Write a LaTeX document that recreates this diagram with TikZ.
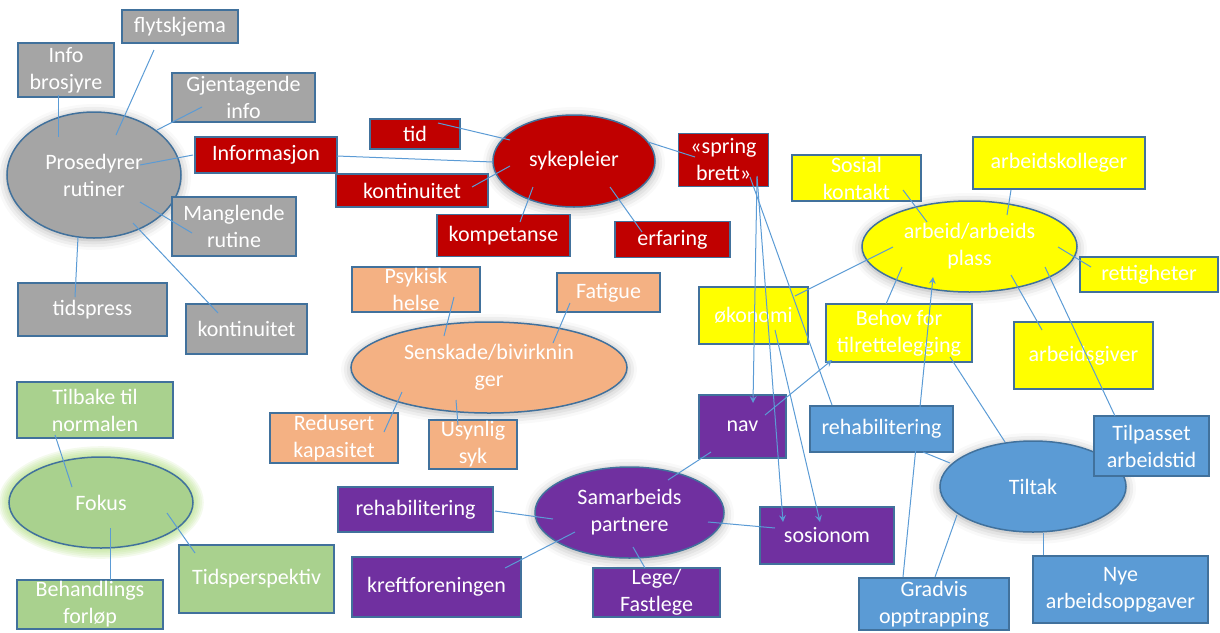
\documentclass[tikz,border=0pt]{standalone}
\usepackage{fontspec}
\setmainfont{Carlito}
\usetikzlibrary{shapes.geometric,shadows.blur}

\definecolor{graybox}{HTML}{A5A5A5}
\definecolor{redbox}{HTML}{C00000}
\definecolor{yellowbox}{HTML}{FFFF00}
\definecolor{orangebox}{HTML}{F4B183}
\definecolor{purplebox}{HTML}{7030A0}
\definecolor{bluebox}{HTML}{5B9BD5}
\definecolor{greenbox}{HTML}{A9D18E}
\definecolor{edgeblue}{HTML}{41719C}
\definecolor{linkblue}{HTML}{5B9BD5}
\definecolor{glowgreen}{HTML}{92D050}

\tikzset{%
		every box/.style={
			draw=edgeblue,
			line width=0.75pt,
			text=white,
			align=center,
			inner sep=0.5pt,
			font=\fontsize{11}{13.5}\selectfont
		},
		bubble/.style={
			every box,
			ellipse
		},
		bubble shadow/.style={
			blur shadow={shadow xshift=0pt, shadow yshift=-1pt, shadow blur radius=5pt, shadow opacity=35}
		},
		link/.style={
			draw=linkblue,
			line width=0.5pt
		},
	}

\begin{document}
\begin{tikzpicture}[x=0.5pt, y=-0.5pt, >=stealth]
			\useasboundingbox (0,0) rectangle (1220,632);
			
			% green glow round the focus bubble
			\foreach \g in {1,...,6}
			\fill [glowgreen, opacity=0.10] (101,502.5) ellipse ({46pt+0.9pt*\g} and {22.75pt+0.9pt*\g});
			
			% draw the bubbles
			\foreach \n/\x/\y/\w/\h/\c/\txt in {
				pros/94/175/174/126/graybox/{Prosedyrer\\rutiner},
				syke/574/161/162/92/redbox/sykepleier,
				arbeid/969.5/246.5/215/91/yellowbox/{arbeid/arbeids\\plass},
				sensk/489/367.5/276/91/orangebox/{Senskade/bivirknin\\ger},
				samar/629.5/512.5/189/91/purplebox/{Samarbeids\\partnere},
				tiltak/1033/486.5/186/91/bluebox/Tiltak}
			\node [bubble, bubble shadow, fill=\c, minimum width=\w*0.5pt, minimum height=\h*0.5pt] (\n) at (\x,\y) {\txt};
			\node [bubble, fill=greenbox, minimum width=92pt, minimum height=45.5pt] (fokus) at (101,502.5) {Fokus};
			
			% draw gray boxes
			\foreach \n/\x/\y/\w/\h/\txt in {
				flyt/180/26.5/116/33/flytskjema,
				info/66/70/96/54/{Info\\brosjyre},
				gjen/243.5/97.5/143/49/{Gjentagende\\info},
				mangl/234/226.5/124/59/{Manglende\\rutine},
				tidsp/92.5/309.5/149/53/tidspress,
				kontg/246.5/329/121/50/kontinuitet}
			\node [every box, fill=graybox, minimum width=\w*0.5pt, minimum height=\h*0.5pt] (\n) at (\x,\y) {\txt};
			
			% draw red boxes
			\foreach \n/\x/\y/\w/\h/\txt in {
				infor/266/155/142/36/Informasjon,
				tid/415/134/90/30/tid,
				kontr/412/190.5/152/33/kontinuitet,
				komp/503.5/235.5/133/42/kompetanse,
				erf/672.5/239.5/115/36/erfaring,
				spring/723.5/160/90/53/{«spring\\brett»}}
			\node [every box, fill=redbox, minimum width=\w*0.5pt, minimum height=\h*0.5pt] (\n) at (\x,\y) {\txt};
			
			% draw yellow boxes
			\foreach \n/\x/\y/\w/\h/\txt in {
				sosial/856.5/178/129/46/{Sosial\\kontakt},
				kolleg/1059/163/172/52/arbeidskolleger,
				retti/1149/274.5/138/35/rettigheter,
				okon/753.5/315.5/109/57/økonomi,
				behov/899/333/146/58/{Behov for\\tilrettelegging},
				giver/1083.5/355.5/139/67/arbeidsgiver}
			\node [every box, fill=yellowbox, minimum width=\w*0.5pt, minimum height=\h*0.5pt] (\n) at (\x,\y) {\txt};
			
			% draw orange boxes
			\foreach \n/\x/\y/\w/\h/\txt in {
				psyk/416/289.5/128/45/{Psykisk\\helse},
				fatig/608.5/292.5/103/39/Fatigue,
				redus/334/438/128/50/{Redusert\\kapasitet},
				usyn/473/444.5/88/49/{Usynlig\\syk}}
			\node [every box, fill=orangebox, minimum width=\w*0.5pt, minimum height=\h*0.5pt] (\n) at (\x,\y) {\txt};
			
			% draw purple boxes
			\foreach \n/\x/\y/\w/\h/\txt in {
				nav/742.5/426.5/87/63/nav,
				rehabp/415.5/509.5/155/45/rehabilitering,
				kreft/436.5/587/169/60/kreftforeningen,
				lege/656.5/592.5/127/49/{Lege/\\Fastlege},
				sosio/827/535.5/134/57/sosionom}
			\node [every box, fill=purplebox, minimum width=\w*0.5pt, minimum height=\h*0.5pt] (\n) at (\x,\y) {\txt};
			
			% draw blue boxes
			\foreach \n/\x/\y/\w/\h/\txt in {
				rehabb/881.5/429/143/46/rehabilitering,
				tilp/1151.5/446/115/60/{Tilpasset\\arbeidstid},
				nye/1120.5/589.5/175/67/{Nye\\arbeidsoppgaver},
				gradv/934/604/150/52/{Gradvis\\opptrapping}}
			\node [every box, fill=bluebox, minimum width=\w*0.5pt, minimum height=\h*0.5pt] (\n) at (\x,\y) {\txt};
			
			% draw green boxes
			\foreach \n/\x/\y/\w/\h/\txt in {
				tilb/95/410/156/56/{Tilbake til\\normalen},
				behand/90/604.5/146/49/{Behandlings\\forløp},
				tperspektiv/256.5/579/155/68/Tidsperspektiv}
			\node [every box, fill=greenbox, minimum width=\w*0.5pt, minimum height=\h*0.5pt] (\n) at (\x,\y) {\txt};
			
			% Draw lines between boxes and bubbles
			\foreach \a/\ax/\ay/\b/\bx/\by in {
				info/-8/25/pros/-36/-38,
				flyt/-26/23.5/pros/22/-40,
				gjen/-41.5/9.5/pros/63/-45,
				infor/-73/0/pros/46/-10,
				mangl/-42/6.5/pros/46/27,
				tidsp/-17.5/-12.5/pros/-16/62,
				kontg/-28.5/-16/pros/39/48,
				tid/23/-11/syke/-64/-21,
				infor/71/1/syke/-81/1,
				kontr/60/-3.5/syke/-64/5,
				komp/16.5/-13.5/syke/-41/26,
				erf/-30.5/-7.5/syke/36/26,
				spring/-28.5/-3/syke/74/-19,
				spring/26.5/17/rehabb/-49.5/-24,
				behov/51/24/tiltak/-28/-44.5,
				rehabb/41.5/23/tiltak/-83/-23.5,
				gradv/1/-27/tiltak/-76/28.5,
				nye/-77.5/-34.5/tiltak/10/46.5,
				tilp/-36.5/-30/arbeid/75.5/20.5,
				sosial/46.5/12/arbeid/-42.5/-24.5,
				kolleg/-48/27/arbeid/37.5/-31.5,
				retti/-58/-7.5/arbeid/88.5/0.5,
				okon/41.5/-19.5/arbeid/-76.5/0.5,
				behov/-13/-29/arbeid/-67.5/20.5,
				giver/-41.5/-25.5/arbeid/41.5/28.5,
				psyk/38/7.5/sensk/-45/-31.5,
				fatig/-38.5/10.5/sensk/64/-24.5,
				redus/50/-6/sensk/-87/24.5,
				usyn/-15/-19.5/sensk/-33/32.5,
				nav/-31.5/25.5/samar/38.5/-32.5,
				rehabp/79.5/1.5/samar/-76.5/6.5,
				kreft/68.5/-19/samar/-54.5/19.5,
				lege/-11.5/-24.5/samar/3.5/34.5,
				sosio/-52/-7.5/samar/78.5/9.5,
				tilb/-40/25/fokus/-29/-15.5,
				behand/20/-25/fokus/9/25.5,
				tperspektiv/-61.5/-26/fokus/66/10.5}
			\draw [link] ([shift={(\ax,\ay)}]\a.center) -- ([shift={(\bx,\by)}]\b.center);
			
			% Draw arrows
			\foreach \a/\ax/\ay/\b/\bx/\by in {
				spring/33.5/17/nav/10.5/-23.5,
				spring/33.5/16/sosio/-44/-13.5,
				okon/21.5/14.5/sosio/-7/-13.5,
				nav/22.5/-11.5/behov/-67/27,
				gradv/-31/-27/arbeid/-36.5/30.5}
			\draw [link, ->] ([shift={(\ax,\ay)}]\a.center) -- ([shift={(\bx,\by)}]\b.center);
\end{tikzpicture}
\end{document}
